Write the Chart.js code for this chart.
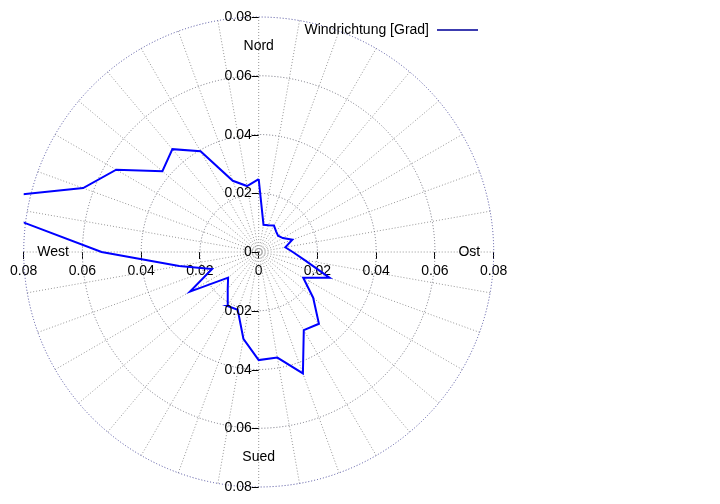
<!DOCTYPE html>
<html><head><meta charset="utf-8">
<script src="https://cdn.jsdelivr.net/npm/chart.js@4/dist/chart.umd.min.js"></script>
<style>html,body{margin:0;padding:0;background:#fff}canvas{display:block}</style>
</head><body>
<canvas id="c" width="720" height="504"></canvas>
<script>
// ---- data ----
const seriesLabel = 'Windrichtung [Grad]';
const directions = [0,10,20,30,40,50,60,70,80,90,100,110,120,130,140,150,160,170,
                    180,190,200,210,220,230,240,250,260,270,280,290,300,310,320,330,340,350];
const frequencies = [0.0248,0.0094,0.0097,0.0104,0.0092,0.0086,0.0095,0.0122,0.0092,0.0116,
                     0.0159,0.0257,0.0175,0.0242,0.0319,0.0307,0.0440,0.0365,
                     0.0368,0.0300,0.0209,0.0212,0.0164,0.0136,0.0270,0.0169,0.0275,0.0535,
                     0.1016,0.0636,0.0560,0.0428,0.0457,0.0396,0.0258,0.0228];
const tickValues = [-0.08,-0.06,-0.04,-0.02,0,0.02,0.04,0.06,0.08];
const tickLabels = ['0.08','0.06','0.04','0.02','0','0.02','0.04','0.06','0.08'];
const ringValues = [0.02,0.04,0.06,0.08];
const compassNames = ['Nord','Ost','Sued','West'];
const compassDirections = [0,90,180,270];
const compassRadii = [0.07,0.0717,0.07,0.07];

const FONT = 'Liberation Sans, Arial, Helvetica, sans-serif';
const rad = d => d * Math.PI / 180;

const points = directions.map((d, i) => ({
  x: frequencies[i] * Math.sin(rad(d)),
  y: frequencies[i] * Math.cos(rad(d))
}));
points.push({x: points[0].x, y: points[0].y});

const polarGrid = {
  id: 'polarGrid',
  beforeDatasetsDraw(chart) {
    const {ctx} = chart;
    const xs = chart.scales.x, ys = chart.scales.y;
    const cx = xs.getPixelForValue(0), cy = ys.getPixelForValue(0);
    const rMax = ringValues[ringValues.length - 1];
    ctx.save();
    ctx.lineWidth = 1;
    // spokes
    ctx.strokeStyle = '#959595';
    ctx.setLineDash([1, 2]);
    directions.forEach(d => {
      ctx.beginPath();
      ctx.moveTo(cx, cy);
      ctx.lineTo(xs.getPixelForValue(rMax * Math.sin(rad(d))), ys.getPixelForValue(rMax * Math.cos(rad(d))));
      ctx.stroke();
    });
    // rings
    ringValues.forEach((r, i) => {
      const rx = xs.getPixelForValue(r) - cx;
      const ry = cy - ys.getPixelForValue(r);
      ctx.strokeStyle = i === ringValues.length - 1 ? '#4a4a9a' : '#6e6e7a';
      ctx.setLineDash([1, 2]);
      ctx.beginPath();
      ctx.ellipse(cx, cy, rx, ry, 0, 0, Math.PI * 2);
      ctx.stroke();
    });
    ctx.restore();
  },
  afterDraw(chart) {
    const {ctx} = chart;
    const xs = chart.scales.x, ys = chart.scales.y;
    const cx = xs.getPixelForValue(0);
    ctx.save();
    ctx.font = '14px ' + FONT;
    ctx.fillStyle = '#000';
    // vertical axis ticks and labels (left of centre line)
    ctx.strokeStyle = '#000';
    ctx.lineWidth = 1;
    ctx.textAlign = 'right';
    ctx.textBaseline = 'middle';
    tickValues.forEach((v, i) => {
      const py = Math.round(ys.getPixelForValue(v)) + 0.5;
      ctx.beginPath();
      ctx.moveTo(cx - 7, py);
      ctx.lineTo(cx, py);
      ctx.stroke();
      ctx.fillText(tickLabels[i], cx - 7, py);
    });
    // compass labels
    ctx.textAlign = 'center';
    compassNames.forEach((name, i) => {
      const d = compassDirections[i], r = compassRadii[i];
      ctx.fillText(name, xs.getPixelForValue(r * Math.sin(rad(d))), ys.getPixelForValue(r * Math.cos(rad(d))));
    });
    // legend
    const ds = chart.data.datasets[0];
    ctx.textAlign = 'right';
    ctx.fillText(ds.label, 429, 30);
    ctx.strokeStyle = '#3c3cb0';
    ctx.lineWidth = 2;
    ctx.beginPath();
    ctx.moveTo(437, 30);
    ctx.lineTo(478, 30);
    ctx.stroke();
    ctx.restore();
  }
};

new Chart(document.getElementById('c'), {
  type: 'scatter',
  data: {
    datasets: [{
      label: seriesLabel,
      data: points,
      showLine: true,
      borderColor: '#0000ff',
      backgroundColor: '#0000ff',
      borderWidth: 2,
      pointRadius: 0,
      tension: 0,
      fill: false,
      clip: 0
    }]
  },
  options: {
    responsive: false,
    animation: false,
    events: [],
    layout: {padding: {left: 23.7, right: 226.3, top: 17, bottom: 17}},
    plugins: {legend: {display: false}, tooltip: {enabled: false}},
    scales: {
      x: {
        type: 'linear', min: -0.08, max: 0.08,
        position: {y: 0},
        afterBuildTicks: s => { s.ticks = tickValues.map(v => ({value: v})); },
        border: {display: false},
        grid: {drawOnChartArea: false, drawTicks: true, tickLength: 7, color: '#000', lineWidth: 1},
        ticks: {color: '#000', font: {size: 14, family: FONT}, padding: 4, autoSkip: false, maxRotation: 0,
                callback: (v, i) => tickLabels[i]}
      },
      y: {
        type: 'linear', min: -0.08, max: 0.08,
        display: false
      }
    }
  },
  plugins: [polarGrid]
});
</script>
</body></html>
